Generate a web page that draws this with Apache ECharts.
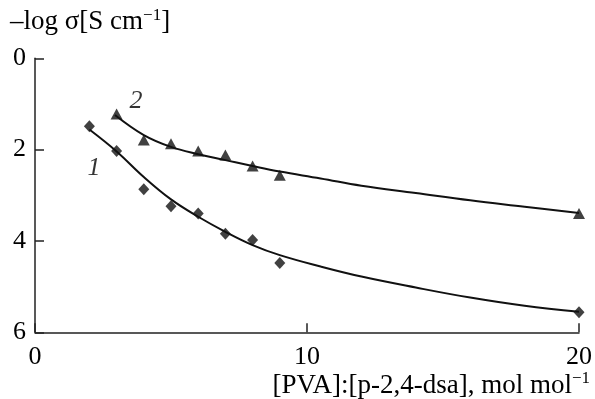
<!DOCTYPE html>
<html>
<head>
<meta charset="utf-8">
<script src="https://cdn.jsdelivr.net/npm/echarts@6/dist/echarts.min.js"></script>
<style>
html,body{margin:0;padding:0;background:#fff;}
#c{width:595px;height:399px;}
</style>
</head>
<body>
<div id="c"></div>
<script>
// Measured data (diamonds: curve 1, triangles: curve 2)
const x1 = [2, 3, 4, 5, 6, 7, 8, 9, 20];
const y1 = [1.49, 2.03, 2.87, 3.24, 3.40, 3.84, 3.98, 4.48, 5.56];
const x2 = [3, 4, 5, 6, 7, 8, 9, 20];
const y2 = [1.22, 1.79, 1.87, 2.03, 2.12, 2.36, 2.56, 3.40];
// Fitted curves
const fitX1 = [2, 3, 4, 5, 6, 7, 8, 9, 10.5, 12, 14, 16, 18, 20];
const fitY1 = [1.56, 2.04, 2.60, 3.09, 3.47, 3.80, 4.09, 4.31, 4.56, 4.78, 5.02, 5.24, 5.42, 5.55];
const fitX2 = [2.94, 4, 5, 6, 7, 8, 9, 10.5, 12, 14, 16, 18, 20];
const fitY2 = [1.24, 1.68, 1.94, 2.10, 2.23, 2.36, 2.48, 2.63, 2.79, 2.95, 3.11, 3.25, 3.39];
// Curve number labels (data coordinates)
const curveLabels = ['1', '2'];
const curveLabelX = [2.17, 3.71];
const curveLabelY = [2.40, 0.93];
const xTicks = [0, 10, 20];
const yTicks = [0, 2, 4, 6];

const zip = (a, b) => a.map((v, i) => [v, b[i]]);
const FONT = '"Liberation Serif", "Times New Roman", serif';
const chart = echarts.init(document.getElementById('c'));
chart.setOption({
  animation: false,
  backgroundColor: '#fff',
  textStyle: {fontFamily: FONT},
  grid: {left: 35, right: 16, top: 58.3, bottom: 66.7},
  xAxis: {
    type: 'value', min: 0, max: 20, interval: 10, position: 'bottom',
    axisLine: {show: true, onZero: false, lineStyle: {color: '#222', width: 1.5}},
    axisTick: {show: true, inside: true, length: 9, lineStyle: {color: '#222', width: 1.5}},
    axisLabel: {color: '#000', fontFamily: FONT, fontSize: 26, margin: 12,
      formatter: v => xTicks.includes(v) ? String(v) : ''},
    splitLine: {show: false}
  },
  yAxis: {
    type: 'value', min: 0, max: 6, interval: 2, inverse: true,
    axisLine: {show: true, onZero: false, lineStyle: {color: '#222', width: 1.5}},
    axisTick: {show: true, inside: true, length: 9, lineStyle: {color: '#222', width: 1.5}},
    axisLabel: {color: '#000', fontFamily: FONT, fontSize: 26, margin: 9, padding: [7, 0, 0, 0],
      formatter: v => yTicks.includes(v) ? String(v) : ''},
    splitLine: {show: false}
  },
  graphic: [
    {type: 'text', left: 10, top: 7, style: {
      text: '–log σ[S cm{sup|−1}]', fill: '#000', font: '27px "Liberation Serif", serif',
      rich: {sup: {fontSize: 17, fontFamily: FONT, fill: '#000', padding: [0, 0, 13, 0]}}
    }},
    {type: 'text', right: 5, bottom: 0, style: {
      text: '[PVA]:[p-2,4-dsa], mol mol{sup|−1}', fill: '#000', font: '27px "Liberation Serif", serif',
      rich: {sup: {fontSize: 17, fontFamily: FONT, fill: '#000', padding: [0, 0, 13, 0]}}
    }}
  ],
  series: [
    {type: 'line', data: zip(fitX1, fitY1), smooth: 0.4, showSymbol: false, symbol: 'none',
      lineStyle: {color: '#111', width: 2}, z: 2},
    {type: 'line', data: zip(fitX2, fitY2), smooth: 0.4, showSymbol: false, symbol: 'none',
      lineStyle: {color: '#111', width: 2}, z: 2},
    {type: 'scatter', data: zip(x1, y1), symbol: 'diamond', symbolSize: [11, 12],
      itemStyle: {color: '#111'}, z: 3},
    {type: 'scatter', data: zip(x2, y2), symbol: 'triangle', symbolSize: [12, 11],
      itemStyle: {color: '#111'}, z: 3},
    {type: 'scatter', symbolSize: 0, z: 4,
      data: curveLabels.map((t, i) => ({value: [curveLabelX[i], curveLabelY[i]], name: t})),
      label: {show: true, position: 'inside', formatter: p => p.name, color: '#000',
        fontFamily: FONT, fontSize: 26, fontStyle: 'italic'}}
  ]
});
</script>
</body>
</html>
